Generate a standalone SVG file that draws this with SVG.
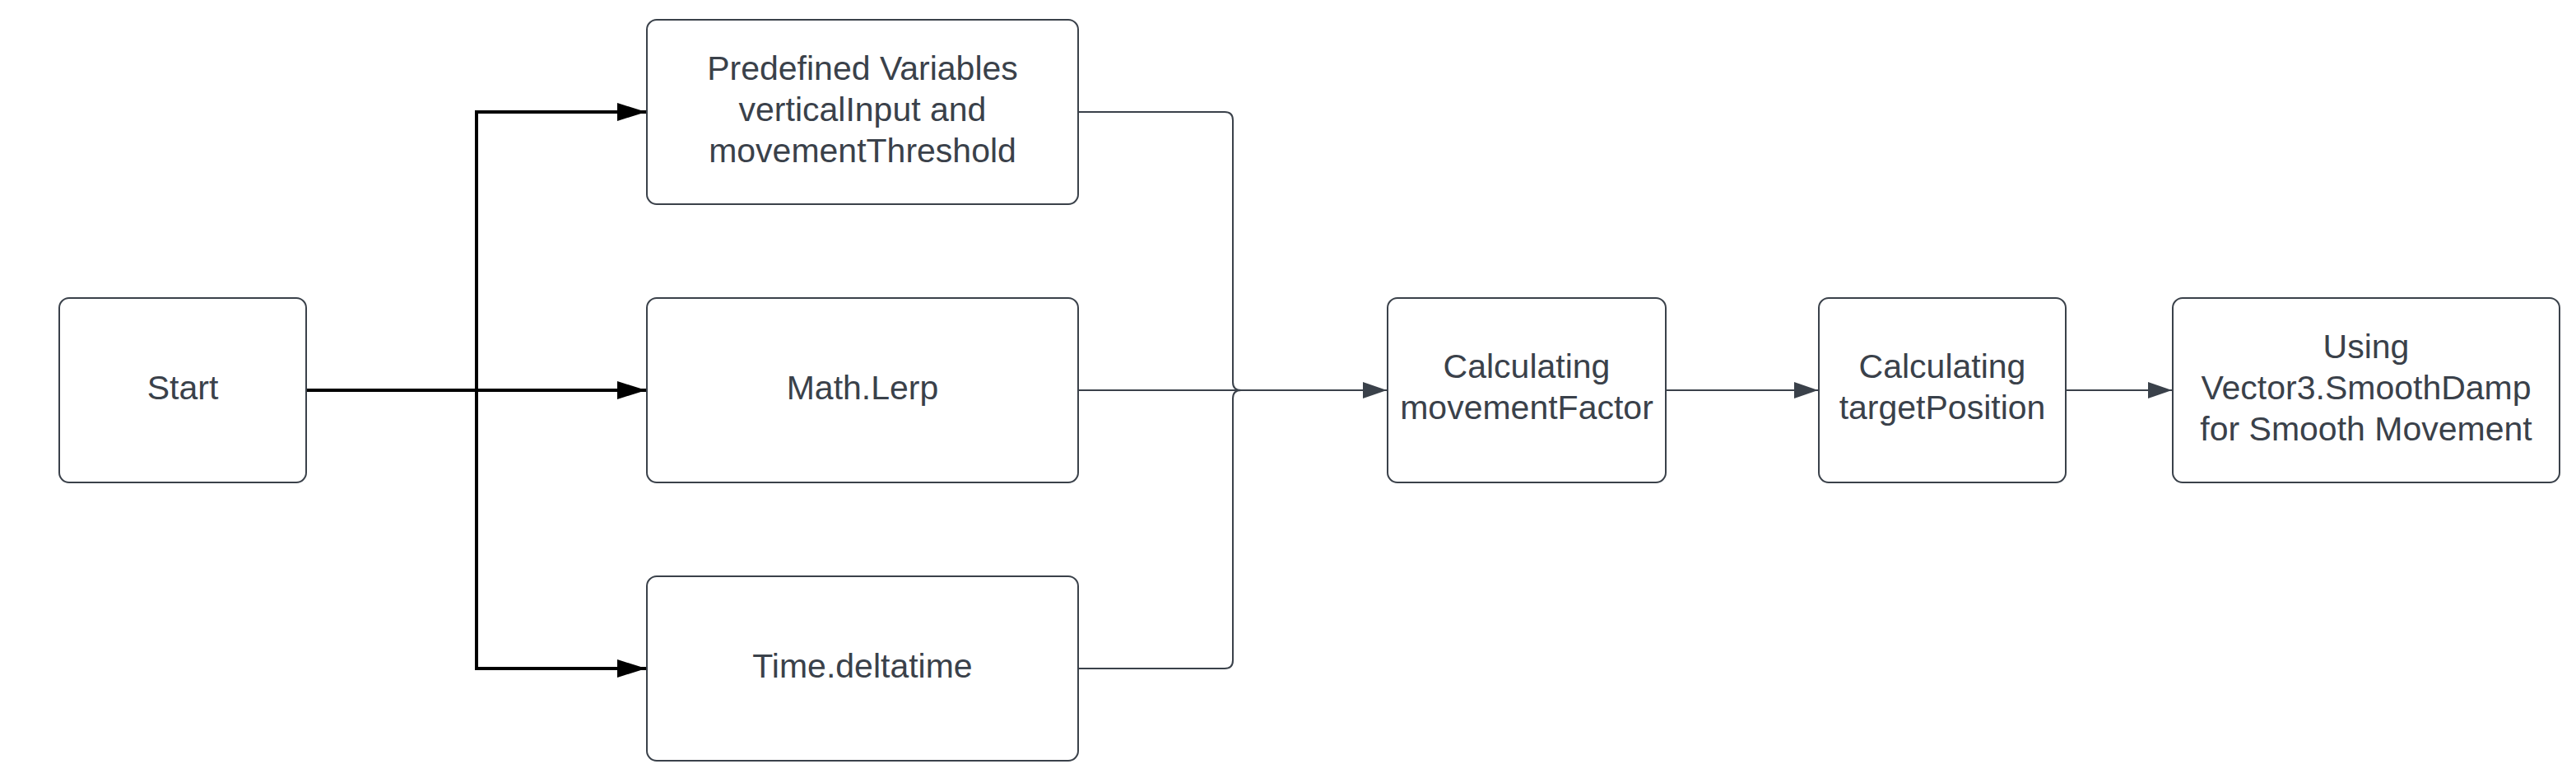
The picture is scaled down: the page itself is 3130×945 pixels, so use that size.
<svg xmlns="http://www.w3.org/2000/svg" width="3130" height="945" viewBox="0 0 3130 945">
<style>
.node rect{fill:#ffffff;stroke:#3a414a;stroke-width:2}
.node text{font-family:"Liberation Sans",Arial,sans-serif;font-size:41px;fill:#3a414a;text-anchor:middle}
.bk{fill:none;stroke:#000000;stroke-width:4}
.gr{fill:none;stroke:#3a414a;stroke-width:2}
</style>
<defs>
<marker id="ab" markerUnits="userSpaceOnUse" markerWidth="36" markerHeight="24" refX="35" refY="11" orient="auto" viewBox="0 0 36 24">
<path d="M0,0 L35,11 L0,22 z" fill="#000000"/>
</marker>
<marker id="ag" markerUnits="userSpaceOnUse" markerWidth="30" markerHeight="22" refX="29" refY="10" orient="auto" viewBox="0 0 30 22">
<path d="M0,0 L29,10 L0,20 z" fill="#3a414a"/>
</marker>
</defs>
<rect width="3130" height="945" fill="#ffffff"/>
<g id="connectors">
<path class="bk" d="M372,474 L785,474" marker-end="url(#ab)"/>
<path class="bk" d="M579,136 L579,812"/>
<path class="bk" d="M577,136 L785,136" marker-end="url(#ab)"/>
<path class="bk" d="M577,812 L785,812" marker-end="url(#ab)"/>
<path class="gr" d="M1310,136 L1488,136 Q1498,136 1498,146 L1498,464 Q1498,474 1508,474 L1520,474"/>
<path class="gr" d="M1310,812 L1488,812 Q1498,812 1498,802 L1498,484 Q1498,474 1508,474 L1520,474"/>
<path class="gr" d="M1310,474 L1685,474" marker-end="url(#ag)"/>
<path class="gr" d="M2024,474 L2209,474" marker-end="url(#ag)"/>
<path class="gr" d="M2510,474 L2639,474" marker-end="url(#ag)"/>
</g>
<g id="start" class="node">
<rect x="72" y="362" width="300" height="224" rx="12"/>
<text x="222" y="485">Start</text>
</g>
<g id="predefined" class="node">
<rect x="786" y="24" width="524" height="224" rx="12"/>
<text x="1048" y="97">Predefined Variables</text>
<text x="1048" y="147">verticalInput and</text>
<text x="1048" y="197">movementThreshold</text>
</g>
<g id="lerp" class="node">
<rect x="786" y="362" width="524" height="224" rx="12"/>
<text x="1048" y="485">Math.Lerp</text>
</g>
<g id="deltatime" class="node">
<rect x="786" y="700" width="524" height="224" rx="12"/>
<text x="1048" y="823">Time.deltatime</text>
</g>
<g id="movementFactor" class="node">
<rect x="1686" y="362" width="338" height="224" rx="12"/>
<text x="1855" y="459">Calculating</text>
<text x="1855" y="509">movementFactor</text>
</g>
<g id="targetPosition" class="node">
<rect x="2210" y="362" width="300" height="224" rx="12"/>
<text x="2360" y="459">Calculating</text>
<text x="2360" y="509">targetPosition</text>
</g>
<g id="smoothDamp" class="node">
<rect x="2640" y="362" width="470" height="224" rx="12"/>
<text x="2875" y="435">Using</text>
<text x="2875" y="485">Vector3.SmoothDamp</text>
<text x="2875" y="535">for Smooth Movement</text>
</g>
</svg>
